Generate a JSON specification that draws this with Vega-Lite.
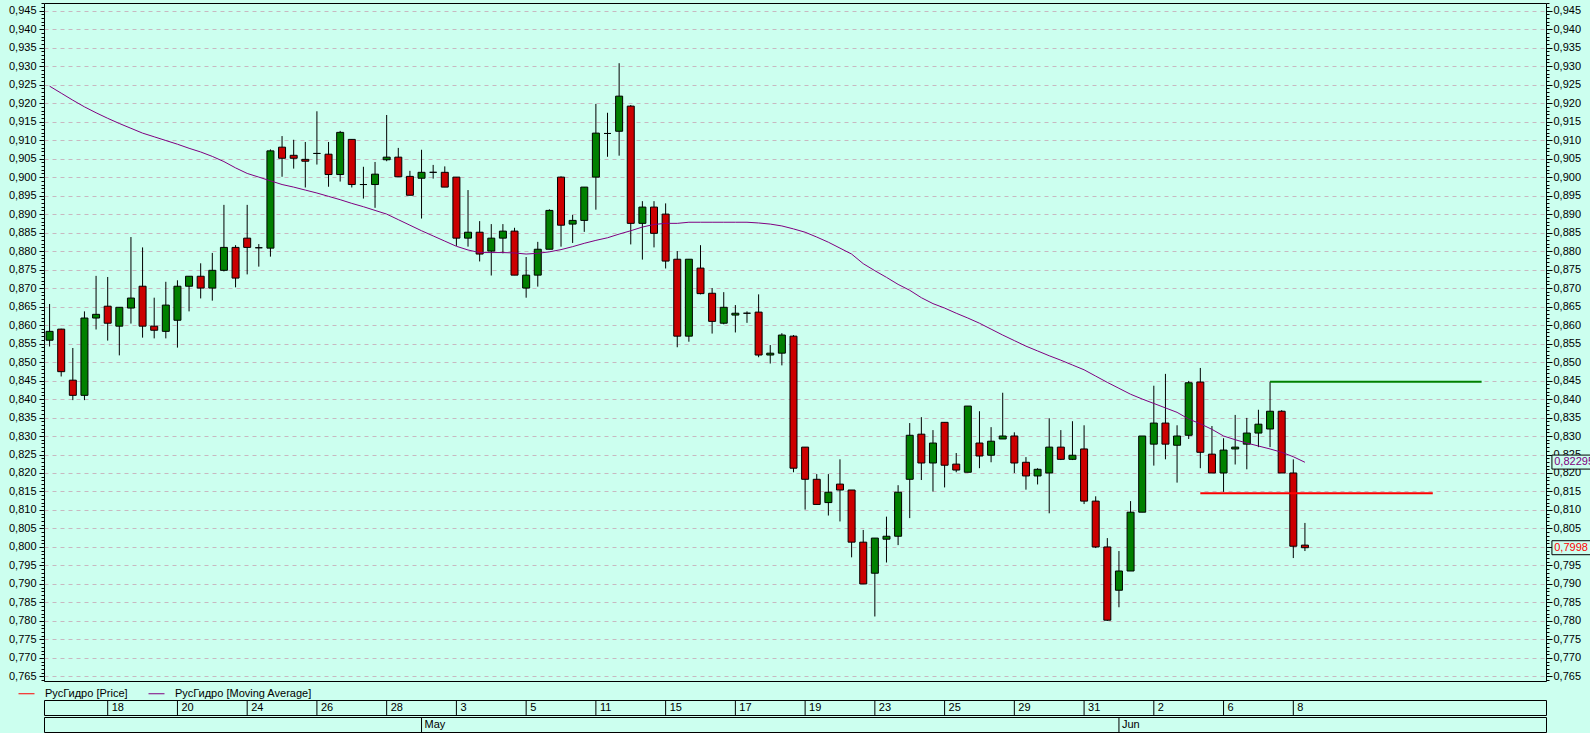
{
  "$schema": "https://vega.github.io/schema/vega-lite/v6.json",
  "autosize": {"type": "pad"},
  "padding": {"left": 7, "top": 2, "right": 0, "bottom": 0},
  "background": "#CCFFEF",
  "config": {
    "view": {"stroke": "#000000", "strokeWidth": 1, "fill": "#CCFFEF"},
    "font": "Liberation Sans",
    "axis": {"labelFont": "Liberation Sans", "labelFontSize": 11, "labelColor": "#000000", "tickColor": "#000000", "domain": false, "title": null, "labelFlush": false},
    "legend": {"labelFont": "Liberation Sans", "labelFontSize": 11, "labelColor": "#000000"}
  },
  "datasets": {
    "candles": [
      {"i":0,"o":0.8559,"h":0.8657,"l":0.8542,"c":0.8583,"ma":0.9246},
      {"i":1,"o":0.8589,"h":0.8590,"l":0.8461,"c":0.8474,"ma":0.9227},
      {"i":2,"o":0.8451,"h":0.8538,"l":0.8397,"c":0.8410,"ma":0.9208},
      {"i":3,"o":0.8410,"h":0.8637,"l":0.8397,"c":0.8619,"ma":0.9190},
      {"i":4,"o":0.8619,"h":0.8733,"l":0.8588,"c":0.8629,"ma":0.9174},
      {"i":5,"o":0.8651,"h":0.8730,"l":0.8558,"c":0.8605,"ma":0.9159},
      {"i":6,"o":0.8597,"h":0.8648,"l":0.8518,"c":0.8648,"ma":0.9145},
      {"i":7,"o":0.8646,"h":0.8838,"l":0.8604,"c":0.8673,"ma":0.9132},
      {"i":8,"o":0.8705,"h":0.8810,"l":0.8566,"c":0.8597,"ma":0.9119},
      {"i":9,"o":0.8597,"h":0.8674,"l":0.8564,"c":0.8586,"ma":0.9109},
      {"i":10,"o":0.8583,"h":0.8717,"l":0.8564,"c":0.8654,"ma":0.9099},
      {"i":11,"o":0.8613,"h":0.8721,"l":0.8539,"c":0.8705,"ma":0.9089},
      {"i":12,"o":0.8705,"h":0.8732,"l":0.8637,"c":0.8732,"ma":0.9078},
      {"i":13,"o":0.8732,"h":0.8767,"l":0.8672,"c":0.8700,"ma":0.9068},
      {"i":14,"o":0.8700,"h":0.8795,"l":0.8666,"c":0.8748,"ma":0.9056},
      {"i":15,"o":0.8748,"h":0.8925,"l":0.8745,"c":0.8810,"ma":0.9042},
      {"i":16,"o":0.8810,"h":0.8816,"l":0.8702,"c":0.8727,"ma":0.9025},
      {"i":17,"o":0.8835,"h":0.8925,"l":0.8737,"c":0.8810,"ma":0.9010},
      {"i":18,"o":0.8809,"h":0.8819,"l":0.8758,"c":0.8809,"ma":0.9000},
      {"i":19,"o":0.8808,"h":0.9075,"l":0.8785,"c":0.9071,"ma":0.8990},
      {"i":20,"o":0.9081,"h":0.9111,"l":0.9001,"c":0.9051,"ma":0.8980},
      {"i":21,"o":0.9059,"h":0.9101,"l":0.9023,"c":0.9051,"ma":0.8973},
      {"i":22,"o":0.9048,"h":0.9095,"l":0.8972,"c":0.9043,"ma":0.8965},
      {"i":23,"o":0.9064,"h":0.9178,"l":0.9034,"c":0.9064,"ma":0.8957},
      {"i":24,"o":0.9062,"h":0.9095,"l":0.8974,"c":0.9007,"ma":0.8948},
      {"i":25,"o":0.9007,"h":0.9125,"l":0.8988,"c":0.9121,"ma":0.8939},
      {"i":26,"o":0.9102,"h":0.9102,"l":0.8972,"c":0.8980,"ma":0.8929},
      {"i":27,"o":0.8980,"h":0.9028,"l":0.8942,"c":0.8980,"ma":0.8920},
      {"i":28,"o":0.8980,"h":0.9041,"l":0.8917,"c":0.9008,"ma":0.8910},
      {"i":29,"o":0.9047,"h":0.9168,"l":0.9043,"c":0.9054,"ma":0.8900},
      {"i":30,"o":0.9054,"h":0.9079,"l":0.9001,"c":0.9001,"ma":0.8885},
      {"i":31,"o":0.9002,"h":0.9017,"l":0.8951,"c":0.8951,"ma":0.8870},
      {"i":32,"o":0.8997,"h":0.9074,"l":0.8888,"c":0.9013,"ma":0.8855},
      {"i":33,"o":0.9013,"h":0.9033,"l":0.8996,"c":0.9013,"ma":0.8841},
      {"i":34,"o":0.9013,"h":0.9029,"l":0.8973,"c":0.8973,"ma":0.8827},
      {"i":35,"o":0.9000,"h":0.9000,"l":0.8814,"c":0.8835,"ma":0.8813},
      {"i":36,"o":0.8835,"h":0.8965,"l":0.8812,"c":0.8851,"ma":0.8803},
      {"i":37,"o":0.8851,"h":0.8881,"l":0.8772,"c":0.8792,"ma":0.8796},
      {"i":38,"o":0.8800,"h":0.8873,"l":0.8734,"c":0.8835,"ma":0.8796},
      {"i":39,"o":0.8835,"h":0.8873,"l":0.8794,"c":0.8854,"ma":0.8796},
      {"i":40,"o":0.8854,"h":0.8863,"l":0.8735,"c":0.8735,"ma":0.8795},
      {"i":41,"o":0.8700,"h":0.8784,"l":0.8674,"c":0.8735,"ma":0.8792},
      {"i":42,"o":0.8735,"h":0.8825,"l":0.8704,"c":0.8805,"ma":0.8794},
      {"i":43,"o":0.8805,"h":0.8913,"l":0.8805,"c":0.8910,"ma":0.8798},
      {"i":44,"o":0.9000,"h":0.9002,"l":0.8812,"c":0.8870,"ma":0.8804},
      {"i":45,"o":0.8873,"h":0.8898,"l":0.8822,"c":0.8883,"ma":0.8812},
      {"i":46,"o":0.8883,"h":0.8973,"l":0.8852,"c":0.8973,"ma":0.8821},
      {"i":47,"o":0.9000,"h":0.9198,"l":0.8912,"c":0.9119,"ma":0.8829},
      {"i":48,"o":0.9118,"h":0.9174,"l":0.9055,"c":0.9118,"ma":0.8836},
      {"i":49,"o":0.9124,"h":0.9308,"l":0.9058,"c":0.9219,"ma":0.8846},
      {"i":50,"o":0.9192,"h":0.9195,"l":0.8818,"c":0.8875,"ma":0.8855},
      {"i":51,"o":0.8875,"h":0.8935,"l":0.8777,"c":0.8919,"ma":0.8865},
      {"i":52,"o":0.8919,"h":0.8935,"l":0.8810,"c":0.8848,"ma":0.8872},
      {"i":53,"o":0.8900,"h":0.8929,"l":0.8753,"c":0.8773,"ma":0.8875},
      {"i":54,"o":0.8778,"h":0.8800,"l":0.8540,"c":0.8570,"ma":0.8875},
      {"i":55,"o":0.8570,"h":0.8778,"l":0.8555,"c":0.8778,"ma":0.8878},
      {"i":56,"o":0.8754,"h":0.8816,"l":0.8683,"c":0.8685,"ma":0.8878},
      {"i":57,"o":0.8686,"h":0.8700,"l":0.8577,"c":0.8610,"ma":0.8878},
      {"i":58,"o":0.8605,"h":0.8689,"l":0.8602,"c":0.8648,"ma":0.8878},
      {"i":59,"o":0.8627,"h":0.8654,"l":0.8580,"c":0.8632,"ma":0.8878},
      {"i":60,"o":0.8632,"h":0.8637,"l":0.8606,"c":0.8632,"ma":0.8878},
      {"i":61,"o":0.8635,"h":0.8683,"l":0.8513,"c":0.8519,"ma":0.8876},
      {"i":62,"o":0.8519,"h":0.8546,"l":0.8496,"c":0.8524,"ma":0.8873},
      {"i":63,"o":0.8524,"h":0.8578,"l":0.8491,"c":0.8573,"ma":0.8868},
      {"i":64,"o":0.8570,"h":0.8573,"l":0.8202,"c":0.8213,"ma":0.8860},
      {"i":65,"o":0.8270,"h":0.8270,"l":0.8101,"c":0.8183,"ma":0.8851},
      {"i":66,"o":0.8183,"h":0.8197,"l":0.8115,"c":0.8115,"ma":0.8838},
      {"i":67,"o":0.8120,"h":0.8197,"l":0.8085,"c":0.8148,"ma":0.8824},
      {"i":68,"o":0.8170,"h":0.8237,"l":0.8069,"c":0.8154,"ma":0.8808},
      {"i":69,"o":0.8154,"h":0.8154,"l":0.7972,"c":0.8013,"ma":0.8792},
      {"i":70,"o":0.8013,"h":0.8046,"l":0.7900,"c":0.7900,"ma":0.8766},
      {"i":71,"o":0.7929,"h":0.8024,"l":0.7812,"c":0.8024,"ma":0.8747},
      {"i":72,"o":0.8021,"h":0.8082,"l":0.7958,"c":0.8029,"ma":0.8729},
      {"i":73,"o":0.8029,"h":0.8167,"l":0.8005,"c":0.8148,"ma":0.8710},
      {"i":74,"o":0.8183,"h":0.8335,"l":0.8078,"c":0.8302,"ma":0.8694},
      {"i":75,"o":0.8305,"h":0.8351,"l":0.8181,"c":0.8227,"ma":0.8674},
      {"i":76,"o":0.8227,"h":0.8316,"l":0.8150,"c":0.8281,"ma":0.8658},
      {"i":77,"o":0.8337,"h":0.8337,"l":0.8161,"c":0.8221,"ma":0.8646},
      {"i":78,"o":0.8224,"h":0.8254,"l":0.8202,"c":0.8208,"ma":0.8632},
      {"i":79,"o":0.8202,"h":0.8381,"l":0.8202,"c":0.8381,"ma":0.8619},
      {"i":80,"o":0.8281,"h":0.8367,"l":0.8213,"c":0.8246,"ma":0.8605},
      {"i":81,"o":0.8248,"h":0.8324,"l":0.8229,"c":0.8286,"ma":0.8589},
      {"i":82,"o":0.8292,"h":0.8417,"l":0.8292,"c":0.8300,"ma":0.8573},
      {"i":83,"o":0.8300,"h":0.8310,"l":0.8200,"c":0.8227,"ma":0.8558},
      {"i":84,"o":0.8229,"h":0.8243,"l":0.8155,"c":0.8192,"ma":0.8543},
      {"i":85,"o":0.8192,"h":0.8213,"l":0.8169,"c":0.8210,"ma":0.8530},
      {"i":86,"o":0.8200,"h":0.8348,"l":0.8091,"c":0.8270,"ma":0.8517},
      {"i":87,"o":0.8270,"h":0.8316,"l":0.8235,"c":0.8237,"ma":0.8505},
      {"i":88,"o":0.8237,"h":0.8340,"l":0.8235,"c":0.8248,"ma":0.8492},
      {"i":89,"o":0.8265,"h":0.8329,"l":0.8116,"c":0.8124,"ma":0.8479},
      {"i":90,"o":0.8124,"h":0.8137,"l":0.7997,"c":0.8000,"ma":0.8462},
      {"i":91,"o":0.8000,"h":0.8024,"l":0.7800,"c":0.7802,"ma":0.8445},
      {"i":92,"o":0.7883,"h":0.7989,"l":0.7837,"c":0.7935,"ma":0.8429},
      {"i":93,"o":0.7935,"h":0.8124,"l":0.7935,"c":0.8094,"ma":0.8413},
      {"i":94,"o":0.8094,"h":0.8300,"l":0.8094,"c":0.8300,"ma":0.8400},
      {"i":95,"o":0.8278,"h":0.8436,"l":0.8220,"c":0.8335,"ma":0.8388},
      {"i":96,"o":0.8335,"h":0.8468,"l":0.8237,"c":0.8278,"ma":0.8376},
      {"i":97,"o":0.8275,"h":0.8329,"l":0.8174,"c":0.8300,"ma":0.8364},
      {"i":98,"o":0.8302,"h":0.8449,"l":0.8292,"c":0.8444,"ma":0.8346},
      {"i":99,"o":0.8446,"h":0.8484,"l":0.8213,"c":0.8256,"ma":0.8333},
      {"i":100,"o":0.8251,"h":0.8327,"l":0.8200,"c":0.8200,"ma":0.8318},
      {"i":101,"o":0.8200,"h":0.8294,"l":0.8149,"c":0.8262,"ma":0.8300},
      {"i":102,"o":0.8265,"h":0.8357,"l":0.8223,"c":0.8270,"ma":0.8290},
      {"i":103,"o":0.8278,"h":0.8349,"l":0.8210,"c":0.8308,"ma":0.8281},
      {"i":104,"o":0.8308,"h":0.8371,"l":0.8270,"c":0.8332,"ma":0.8273},
      {"i":105,"o":0.8319,"h":0.8446,"l":0.8270,"c":0.8367,"ma":0.8265},
      {"i":106,"o":0.8367,"h":0.8370,"l":0.8200,"c":0.8200,"ma":0.8256},
      {"i":107,"o":0.8200,"h":0.8237,"l":0.7970,"c":0.8002,"ma":0.8244},
      {"i":108,"o":0.8005,"h":0.8065,"l":0.7989,"c":0.7998,"ma":0.8229}
    ],
    "days": [
      {"i":5,"label":"18"},{"i":11,"label":"20"},{"i":17,"label":"24"},{"i":23,"label":"26"},
      {"i":29,"label":"28"},{"i":35,"label":"3"},{"i":41,"label":"5"},{"i":47,"label":"11"},
      {"i":53,"label":"15"},{"i":59,"label":"17"},{"i":65,"label":"19"},{"i":71,"label":"23"},
      {"i":77,"label":"25"},{"i":83,"label":"29"},{"i":89,"label":"31"},{"i":95,"label":"2"},
      {"i":101,"label":"6"},{"i":107,"label":"8"}
    ],
    "months": [{"i":32,"label":"May"},{"i":92,"label":"Jun"}],
    "priceLevel": [{"start":99,"end":119,"value":0.8145}],
    "highLevel": [{"start":105,"end":123.2,"value":0.8447}],
    "tags": [{"label":"0,82295","v":0.82295,"kind":"ma"},{"label":"0,7998","v":0.7998,"kind":"price"}]
  },
  "spacing": 17,
  "vconcat": [
    {
      "width": 1502,
      "height": 678,
      "resolve": {"axis": {"y": "independent"}},
      "layer": [
        {
          "data": {"name": "candles"},
          "mark": {"type": "rule", "color": "#000000", "strokeWidth": 1},
          "encoding": {
            "x": {"field": "i", "type": "quantitative",
                  "scale": {"domain": [-0.48, 128.74], "nice": false, "zero": false, "padding": 0},
                  "axis": {"values": [5,11,17,23,29,35,41,47,53,59,65,71,77,83,89,95,101,107], "grid": true, "gridColor": "#C8B8C0", "gridDash": [4,4], "labels": false, "ticks": false, "domain": false, "title": null}},
            "y": {"field": "l", "type": "quantitative",
                  "scale": {"domain": [0.76376, 0.94708], "nice": false, "zero": false, "padding": 0},
                  "axis": {"orient": "left", "tickCount": 37, "grid": true, "gridColor": "#C8B8C0", "gridDash": [4,4], "tickSize": 5, "labelPadding": 3, "labelExpr": "replace(format(datum.value, '.3f'), '.', ',')", "title": null}},
            "y2": {"field": "h"}
          }
        },
        {
          "data": {"name": "candles"},
          "mark": {"type": "bar", "size": 7, "stroke": "#000000", "strokeWidth": 1, "opacity": 1},
          "encoding": {
            "x": {"field": "i", "type": "quantitative", "axis": null},
            "y": {"field": "o", "type": "quantitative",
                  "axis": {"orient": "left", "tickCount": 180, "labels": false, "grid": false, "tickSize": 3, "title": null}},
            "y2": {"field": "c"},
            "fill": {"condition": [{"test": "datum.c > datum.o", "value": "#008000"}, {"test": "datum.c < datum.o", "value": "#CC0000"}], "value": "#000000"}
          }
        },
        {
          "data": {"name": "candles"},
          "mark": {"type": "line", "strokeWidth": 1},
          "encoding": {
            "x": {"field": "i", "type": "quantitative", "axis": null},
            "y": {"field": "ma", "type": "quantitative",
                  "axis": {"orient": "right", "tickCount": 37, "grid": false, "tickSize": 6, "labelPadding": 1, "labelExpr": "replace(format(datum.value, '.3f'), '.', ',')", "title": null}},
            "color": {"datum": "РусГидро [Moving Average]", "type": "nominal",
                      "scale": {"domain": ["РусГидро [Price]", "РусГидро [Moving Average]"], "range": ["#FF0000", "#800080"]},
                      "legend": {"orient": "none", "legendX": -26, "legendY": 682, "direction": "horizontal", "title": null, "symbolType": "stroke", "symbolSize": 256, "symbolStrokeWidth": 1, "labelOffset": 10, "columnPadding": 18, "labelFontSize": 11}}
          }
        },
        {
          "data": {"name": "priceLevel"},
          "mark": {"type": "rule", "strokeWidth": 2},
          "encoding": {
            "x": {"field": "start", "type": "quantitative", "axis": null},
            "x2": {"field": "end"},
            "y": {"field": "value", "type": "quantitative",
                  "axis": {"orient": "right", "tickCount": 180, "labels": false, "grid": false, "tickSize": 3, "title": null}},
            "color": {"datum": "РусГидро [Price]", "type": "nominal"}
          }
        },
        {
          "data": {"name": "highLevel"},
          "mark": {"type": "rule", "strokeWidth": 2, "color": "#008000"},
          "encoding": {
            "x": {"field": "start", "type": "quantitative", "axis": null},
            "x2": {"field": "end"},
            "y": {"field": "value", "type": "quantitative", "axis": null}
          }
        },
        {
          "data": {"name": "tags"},
          "mark": {"type": "bar", "orient": "horizontal", "size": 14, "fill": "#CCFFEF", "stroke": "#000000", "strokeWidth": 1},
          "encoding": {
            "x": {"datum": 129.25, "type": "quantitative", "axis": null},
            "x2": {"datum": 132.6},
            "y": {"field": "v", "type": "quantitative", "axis": null}
          }
        },
        {
          "data": {"name": "tags"},
          "mark": {"type": "text", "align": "left", "baseline": "middle", "font": "Liberation Sans", "fontSize": 11},
          "encoding": {
            "x": {"datum": 129.45, "type": "quantitative", "axis": null},
            "y": {"field": "v", "type": "quantitative", "axis": null},
            "text": {"field": "label"},
            "fill": {"condition": {"test": "datum.kind === 'ma'", "value": "#800080"}, "value": "#FF0000"}
          }
        }
      ]
    },
    {
      "spacing": 0,
      "vconcat": [
        {
          "width": 1502,
          "height": 15,
          "data": {"name": "days"},
          "layer": [
            {
              "mark": {"type": "rule", "color": "#000000", "strokeWidth": 1},
              "encoding": {
                "x": {"field": "i", "type": "quantitative", "scale": {"domain": [-0.48, 128.74], "nice": false, "zero": false, "padding": 0}, "axis": null}
              }
            },
            {
              "mark": {"type": "text", "align": "left", "baseline": "middle", "dx": 4, "font": "Liberation Sans", "fontSize": 11, "color": "#000000"},
              "encoding": {
                "x": {"field": "i", "type": "quantitative", "axis": null},
                "text": {"field": "label"}
              }
            }
          ]
        },
        {
          "width": 1502,
          "height": 15,
          "data": {"name": "months"},
          "layer": [
            {
              "mark": {"type": "rule", "color": "#000000", "strokeWidth": 1},
              "encoding": {
                "x": {"field": "i", "type": "quantitative", "scale": {"domain": [-0.48, 128.74], "nice": false, "zero": false, "padding": 0}, "axis": null}
              }
            },
            {
              "mark": {"type": "text", "align": "left", "baseline": "middle", "dx": 3, "font": "Liberation Sans", "fontSize": 11, "color": "#000000"},
              "encoding": {
                "x": {"field": "i", "type": "quantitative", "axis": null},
                "text": {"field": "label"}
              }
            }
          ]
        }
      ]
    }
  ]
}
